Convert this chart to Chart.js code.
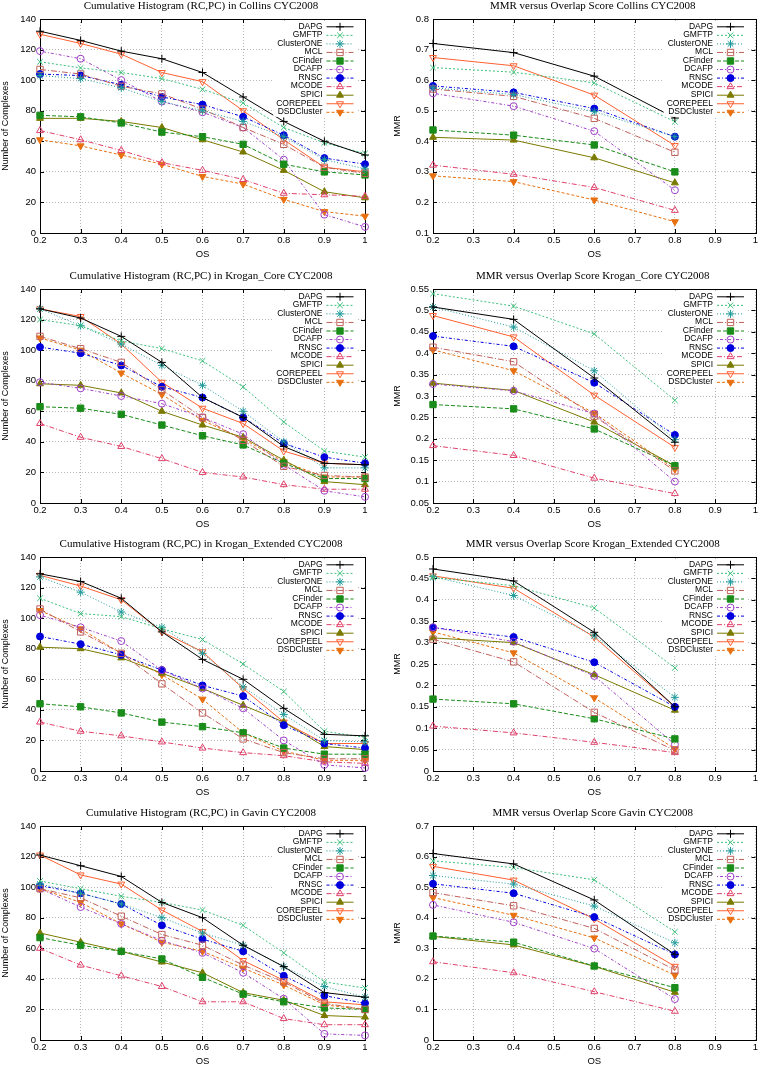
<!DOCTYPE html>
<html>
<head>
<meta charset="utf-8">
<script src="https://cdn.jsdelivr.net/npm/chart.js@4.4.1/dist/chart.umd.min.js"></script>
<style>
  html, body { margin: 0; padding: 0; background: #fff; }
  body { position: relative; width: 761px; height: 1066px; overflow: hidden; }
  canvas { position: absolute; }
</style>
</head>
<body>
<script>
// OS thresholds on the x axis
const osHist = [0.2, 0.3, 0.4, 0.5, 0.6, 0.7, 0.8, 0.9, 1.0];
const osMmr = [0.2, 0.4, 0.6, 0.8];

const methods = ['DAPG', 'GMFTP', 'ClusterONE', 'MCL', 'CFinder', 'DCAFP', 'RNSC', 'MCODE', 'SPICI', 'COREPEEL', 'DSDCluster'];

// values, one row per method (same order as methods)
const collinsHist = [
    [132, 126, 119, 114, 105, 89, 73, 60, 51],
    [112, 108, 105, 101, 94, 85, 69, 59, 52],
    [103, 101, 95, 86, 80, 73, 63, 48, 42],
    [107, 104, 96, 91, 81, 69, 58, 43, 39],
    [77, 76, 72, 66, 63, 58, 45, 40, 38],
    [119, 114, 100, 86, 79, 69, 48, 12, 4],
    [104, 103, 97, 89, 84, 76, 64, 49, 45],
    [67, 61, 54, 46, 41, 35, 26, 25, 24],
    [75, 75, 73, 69, 61, 53, 41, 27, 23],
    [130, 124, 117, 105, 99, 80, 61, 43, 40],
    [61, 57, 51, 45, 37, 32, 22, 14, 11]
];
const collinsMmr = [
    [0.72, 0.69, 0.613, 0.476],
    [0.641, 0.626, 0.591, 0.464],
    [0.575, 0.553, 0.497, 0.415],
    [0.571, 0.547, 0.475, 0.364],
    [0.437, 0.42, 0.388, 0.30],
    [0.557, 0.515, 0.433, 0.24],
    [0.581, 0.56, 0.507, 0.415],
    [0.322, 0.292, 0.249, 0.174],
    [0.413, 0.404, 0.346, 0.264],
    [0.674, 0.647, 0.551, 0.386],
    [0.287, 0.268, 0.208, 0.137]
];
const coreHist = [
    [127, 121, 109, 92, 69, 56, 37, 26, 25],
    [120, 116, 106, 101, 93, 76, 53, 34, 30],
    [127, 116, 104, 90, 77, 60, 40, 23, 23],
    [109, 101, 92, 74, 56, 41, 24, 18, 17],
    [63, 62, 58, 51, 44, 38, 26, 16, 16],
    [79, 75, 70, 65, 56, 45, 25, 8, 4],
    [102, 98, 90, 76, 69, 56, 39, 30, 26],
    [52, 43, 37, 29, 20, 17, 12, 9, 9],
    [78, 77, 72, 60, 51, 43, 28, 14, 12],
    [127, 122, 104, 79, 62, 52, 34, 26, 25],
    [108, 100, 85, 71, 54, 42, 27, 17, 17]
];
const coreMmr = [
    [0.508, 0.479, 0.342, 0.192],
    [0.539, 0.51, 0.445, 0.29],
    [0.508, 0.461, 0.359, 0.198],
    [0.414, 0.38, 0.253, 0.125],
    [0.28, 0.27, 0.223, 0.137],
    [0.328, 0.312, 0.259, 0.1],
    [0.44, 0.416, 0.331, 0.209],
    [0.184, 0.161, 0.108, 0.072],
    [0.33, 0.313, 0.239, 0.137],
    [0.488, 0.438, 0.302, 0.18],
    [0.408, 0.359, 0.26, 0.129]
];
const extHist = [
    [129, 124, 113, 91, 73, 60, 41, 24, 23],
    [113, 103, 101, 93, 86, 70, 52, 26, 22],
    [127, 117, 104, 94, 77, 55, 37, 20, 19],
    [106, 91, 77, 57, 38, 21, 12, 8, 8],
    [44, 42, 38, 32, 29, 25, 15, 11, 11],
    [102, 94, 85, 66, 54, 41, 20, 4, 2],
    [88, 83, 76, 66, 56, 49, 30, 18, 15],
    [32, 26, 23, 19, 15, 12, 10, 6, 5],
    [81, 80, 74, 64, 54, 43, 32, 16, 14],
    [128, 121, 112, 91, 78, 54, 32, 18, 18],
    [105, 93, 77, 63, 47, 25, 13, 7, 7]
];
const extMmr = [
    [0.472, 0.444, 0.324, 0.15],
    [0.452, 0.433, 0.381, 0.241],
    [0.454, 0.41, 0.316, 0.172],
    [0.308, 0.255, 0.137, 0.048],
    [0.168, 0.157, 0.122, 0.075],
    [0.336, 0.302, 0.222, 0.062],
    [0.335, 0.313, 0.254, 0.15],
    [0.105, 0.089, 0.067, 0.043],
    [0.311, 0.3, 0.225, 0.142],
    [0.456, 0.427, 0.313, 0.15],
    [0.325, 0.276, 0.171, 0.052]
];
const gavinHist = [
    [121, 114, 107, 90, 80, 62, 48, 31, 28],
    [104, 99, 94, 90, 85, 75, 57, 38, 34],
    [102, 96, 89, 80, 70, 62, 48, 35, 28],
    [99, 93, 81, 69, 62, 49, 38, 24, 20],
    [67, 62, 58, 53, 41, 30, 25, 21, 20],
    [99, 87, 76, 65, 57, 44, 27, 4, 3],
    [101, 96, 89, 75, 66, 58, 42, 29, 24],
    [60, 49, 42, 35, 25, 25, 14, 10, 10],
    [70, 64, 58, 51, 44, 31, 26, 16, 15],
    [121, 108, 102, 85, 71, 52, 39, 25, 23],
    [99, 90, 76, 64, 58, 47, 36, 23, 20]
];
const gavinMmr = [
    [0.61, 0.576, 0.458, 0.28],
    [0.586, 0.564, 0.524, 0.354],
    [0.538, 0.51, 0.438, 0.318],
    [0.482, 0.439, 0.365, 0.229],
    [0.34, 0.32, 0.242, 0.171],
    [0.442, 0.385, 0.299, 0.134],
    [0.511, 0.48, 0.402, 0.28],
    [0.256, 0.22, 0.158, 0.094],
    [0.339, 0.311, 0.241, 0.156],
    [0.568, 0.523, 0.396, 0.241],
    [0.466, 0.408, 0.334, 0.212]
];

// gnuplot-like line styles
const methodColors = ['#000000', '#3cbf7a', '#1f9a9a', '#c0605a', '#1a8c1a', '#a040c8', '#0000dd', '#e0406a', '#7a7a00', '#ff6030', '#e87010'];
const methodDash = [[], [2, 2], [1, 2], [6, 2, 1, 2], [4, 2], [1, 2, 3, 2], [3, 2, 1, 2], [5, 2, 1, 2], [], [], [3, 2]];
const methodPoint = ['cross', 'crossRot', 'star', 'rect', 'rect', 'circle', 'circle', 'triangle', 'triangle', 'triangle', 'triangle'];
const methodRotation = [0, 0, 0, 0, 0, 0, 0, 0, 0, 180, 180];
const methodFilled = [false, false, false, false, true, false, true, false, true, false, true];
const methodRadius = [4, 4, 4, 4.5, 4.5, 3.5, 3.5, 4, 4, 4, 4];

const SANS = "'Liberation Sans', Arial, sans-serif";
const SERIF = "'Liberation Serif', 'Times New Roman', serif";

const panels = [
    { title: 'Cumulative Histogram (RC,PC) in Collins CYC2008', xs: osHist, values: collinsHist, yMin: 0, yMax: 140, yStep: 20, yTitle: 'Number of Complexes', col: 0, top: 0 },
    { title: 'MMR versus Overlap Score Collins CYC2008', xs: osMmr, values: collinsMmr, yMin: 0.1, yMax: 0.8, yStep: 0.1, yTitle: 'MMR', col: 1, top: 0 },
    { title: 'Cumulative Histogram (RC,PC) in Krogan_Core CYC2008', xs: osHist, values: coreHist, yMin: 0, yMax: 140, yStep: 20, yTitle: 'Number of Complexes', col: 0, top: 270 },
    { title: 'MMR versus Overlap Score Krogan_Core CYC2008', xs: osMmr, values: coreMmr, yMin: 0.05, yMax: 0.55, yStep: 0.05, yTitle: 'MMR', col: 1, top: 270 },
    { title: 'Cumulative Histogram (RC,PC) in Krogan_Extended CYC2008', xs: osHist, values: extHist, yMin: 0, yMax: 140, yStep: 20, yTitle: 'Number of Complexes', col: 0, top: 538 },
    { title: 'MMR versus Overlap Score Krogan_Extended CYC2008', xs: osMmr, values: extMmr, yMin: 0, yMax: 0.5, yStep: 0.05, yTitle: 'MMR', col: 1, top: 538 },
    { title: 'Cumulative Histogram (RC,PC) in Gavin CYC2008', xs: osHist, values: gavinHist, yMin: 0, yMax: 140, yStep: 20, yTitle: 'Number of Complexes', col: 0, top: 807 },
    { title: 'MMR versus Overlap Score Gavin CYC2008', xs: osMmr, values: gavinMmr, yMin: 0, yMax: 0.7, yStep: 0.1, yTitle: 'MMR', col: 1, top: 807 }
];

// column geometry: canvas left/width, plot left inside canvas, plot right inside canvas
const columns = [
    { left: 0, width: 380, plotLeft: 40, plotRight: 365, yTitlePad: 0.6 },
    { left: 380, width: 381, plotLeft: 53, plotRight: 377.7, yTitlePad: 12.6 }
];
const CANVAS_H = 263;
const PLOT_TOP = 19;
const PLOT_BOTTOM = 233;

function fmt(v) {
    return String(+(+v).toFixed(2));
}

// frame, mirrored ticks, title and gnuplot-style key
const gnuplotFrame = {
    id: 'gnuplotFrame',
    beforeDatasetsDraw(chart) {
        const { ctx, chartArea: a, scales: { x, y } } = chart;
        ctx.save();
        ctx.strokeStyle = '#000';
        ctx.lineWidth = 1;
        ctx.setLineDash([]);
        ctx.beginPath();
        x.ticks.forEach(t => {
            const px = Math.round(x.getPixelForValue(t.value)) + 0.5;
            ctx.moveTo(px, a.bottom); ctx.lineTo(px, a.bottom - 4);
            ctx.moveTo(px, a.top); ctx.lineTo(px, a.top + 4);
        });
        y.ticks.forEach(t => {
            const py = Math.round(y.getPixelForValue(t.value)) + 0.5;
            ctx.moveTo(a.left, py); ctx.lineTo(a.left + 4, py);
            ctx.moveTo(a.right, py); ctx.lineTo(a.right - 4, py);
        });
        ctx.stroke();
        ctx.strokeRect(Math.round(a.left) + 0.5, Math.round(a.top) + 0.5, Math.round(a.right - a.left), Math.round(a.bottom - a.top));
        ctx.restore();
    },
    afterDatasetsDraw(chart, args, opts) {
        const { ctx, chartArea: a } = chart;
        ctx.save();

        // key
        const lineEnd = a.right - 11.5;
        const lineStart = lineEnd - 27;
        const textRight = lineStart - 4;
        const firstY = a.top + 7.3;
        const step = 8.55;
        ctx.font = '8.5px ' + SANS;
        let widest = 0;
        chart.data.datasets.forEach(ds => { widest = Math.max(widest, ctx.measureText(ds.label).width); });
        const lastY = firstY + step * (chart.data.datasets.length - 1);
        ctx.fillStyle = '#fff';
        ctx.fillRect(textRight - widest - 3, firstY - 6, lineEnd + 4 - (textRight - widest - 3), lastY - firstY + 11);

        chart.data.datasets.forEach((ds, i) => {
            const yy = firstY + step * i;
            ctx.fillStyle = '#000';
            ctx.textAlign = 'right';
            ctx.textBaseline = 'middle';
            ctx.fillText(ds.label, textRight, yy);
            ctx.strokeStyle = ds.borderColor;
            ctx.lineWidth = 1;
            ctx.setLineDash(ds.borderDash);
            ctx.beginPath();
            ctx.moveTo(lineStart, yy + 0.5);
            ctx.lineTo(lineEnd, yy + 0.5);
            ctx.stroke();
            ctx.setLineDash([]);
            ctx.fillStyle = ds.pointBackgroundColor;
            Chart.helpers.drawPoint(ctx, {
                pointStyle: ds.pointStyle,
                rotation: ds.pointRotation,
                radius: ds.pointRadius,
                borderWidth: 1
            }, (lineStart + lineEnd) / 2, yy + 0.5);
        });

        // title
        ctx.fillStyle = '#000';
        ctx.font = '11px ' + SERIF;
        ctx.textAlign = 'center';
        ctx.textBaseline = 'middle';
        ctx.fillText(opts.text, (a.left + a.right) / 2 - 1.5, a.top - 13);
        ctx.restore();
    }
};

panels.forEach(p => {
    const col = columns[p.col];
    const canvas = document.createElement('canvas');
    canvas.width = col.width;
    canvas.height = CANVAS_H;
    canvas.style.left = col.left + 'px';
    canvas.style.top = p.top + 'px';
    canvas.style.width = col.width + 'px';
    canvas.style.height = CANVAS_H + 'px';
    document.body.appendChild(canvas);

    const datasets = methods.map((m, i) => ({
        label: m,
        data: p.xs.map((x, j) => ({ x: x, y: p.values[i][j] })),
        borderColor: methodColors[i],
        backgroundColor: methodColors[i],
        borderWidth: 1,
        borderDash: methodDash[i],
        pointStyle: methodPoint[i],
        pointRotation: methodRotation[i],
        pointRadius: methodRadius[i],
        pointBorderWidth: 1,
        pointBorderColor: methodColors[i],
        pointBackgroundColor: methodFilled[i] ? methodColors[i] : 'rgba(0,0,0,0)',
        tension: 0,
        fill: false,
        clip: false
    }));

    new Chart(canvas, {
        type: 'line',
        data: { datasets: datasets },
        options: {
            responsive: false,
            animation: false,
            events: [],
            layout: { padding: { top: PLOT_TOP, left: 0, bottom: 0, right: col.width - col.plotRight } },
            plugins: {
                legend: { display: false },
                tooltip: { enabled: false },
                gnuplotFrame: { text: p.title }
            },
            scales: {
                x: {
                    type: 'linear',
                    min: 0.2,
                    max: 1,
                    afterFit: s => { s.height = CANVAS_H - PLOT_BOTTOM; },
                    ticks: { stepSize: 0.1, color: '#000', font: { family: SANS, size: 9.5 }, padding: 2, maxRotation: 0, callback: v => fmt(v) },
                    grid: { color: 'rgba(165,165,165,0.8)', lineWidth: 1, drawTicks: false },
                    border: { display: false, dash: [1, 2] },
                    title: { display: true, text: 'OS', color: '#000', font: { family: SANS, size: 9.5 }, padding: { top: 0, bottom: 2.8 } }
                },
                y: {
                    type: 'linear',
                    min: p.yMin,
                    max: p.yMax,
                    afterFit: s => { s.width = col.plotLeft; },
                    ticks: { stepSize: p.yStep, color: '#000', font: { family: SANS, size: 9.5 }, padding: 4, callback: v => fmt(v) },
                    grid: { color: 'rgba(165,165,165,0.8)', lineWidth: 1, drawTicks: false },
                    border: { display: false, dash: [1, 2] },
                    title: { display: true, text: p.yTitle, color: '#000', font: { family: SANS, size: 9 }, padding: { top: col.yTitlePad, bottom: 0 } }
                }
            }
        },
        plugins: [gnuplotFrame]
    });
});
</script>
</body>
</html>
